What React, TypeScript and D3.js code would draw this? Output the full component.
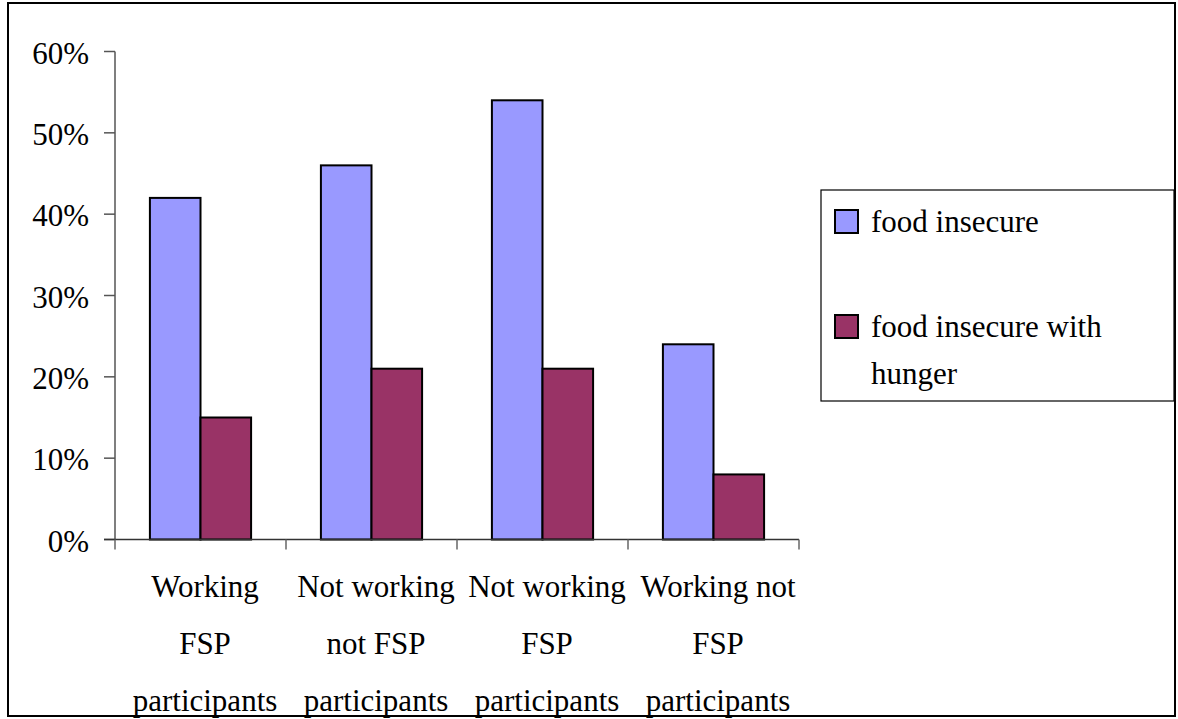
import React from 'react';
import * as d3 from 'd3';

const categories: string[][] = [
    ['Working', 'FSP', 'participants'],
    ['Not working', 'not FSP', 'participants'],
    ['Not working', 'FSP', 'participants'],
    ['Working not', 'FSP', 'participants'],
];
const seriesNames = ['food insecure', 'food insecure with hunger'];
const foodInsecure = [0.42, 0.46, 0.54, 0.24];
const withHunger = [0.15, 0.21, 0.21, 0.08];
const yTicks = [0, 0.1, 0.2, 0.3, 0.4, 0.5, 0.6];
const colors = ['#9999FF', '#993366'];

const width = 1178;
const height = 719;
const fontSize = 31;
const serif = 'Liberation Serif';

const App: React.FC = () => {
    const keys = categories.map(c => c.join(' '));
    const x0 = d3.scaleBand().domain(keys).range([115, 799]).padding(0);
    const x1 = d3.scaleBand()
        .domain(seriesNames)
        .range([0, x0.bandwidth()])
        .paddingInner(0)
        .paddingOuter(0.69);
    const y = d3.scaleLinear().domain([0, 0.6]).range([539.5, 51.5]);
    const fmt = d3.format('.0%');
    const values = [foodInsecure, withHunger];
    const xTicks = [...keys.map(k => x0(k)!), x0.range()[1]];

    const legendRows = [
        { lines: ['food insecure'], y: 210 },
        { lines: ['food insecure with', 'hunger'], y: 315 },
    ];

    return (
        <svg
            width={width}
            height={height}
            fontFamily={serif}
            fontSize={fontSize}
            style={{ position: 'absolute', left: 0, top: 0 }}
        >
            {/* outer frame */}
            <rect x={8} y={3} width={1167} height={713} fill="#fff" stroke="#000" strokeWidth={2} />

            {/* bars */}
            {keys.map((k, i) => (
                <g key={k} transform={`translate(${x0(k)},0)`}>
                    {seriesNames.map((s, j) => (
                        <rect
                            key={s}
                            x={x1(s)}
                            y={y(values[j][i])}
                            width={x1.bandwidth()}
                            height={y(0) - y(values[j][i])}
                            fill={colors[j]}
                            stroke="#000"
                            strokeWidth={2}
                        />
                    ))}
                </g>
            ))}

            {/* y axis */}
            <line x1={115} x2={115} y1={y(0.6)} y2={y(0)} stroke="#555" strokeWidth={1.5} />
            {yTicks.map(t => (
                <g key={t}>
                    <line x1={104} x2={115} y1={y(t)} y2={y(t)} stroke="#555" strokeWidth={1.5} />
                    <text x={89} y={y(t) + 12} textAnchor="end" fill="#000">
                        {fmt(t)}
                    </text>
                </g>
            ))}

            {/* x axis */}
            <line x1={104} x2={799} y1={y(0)} y2={y(0)} stroke="#333" strokeWidth={1.5} />
            {xTicks.map(t => (
                <line key={t} x1={t} x2={t} y1={y(0)} y2={y(0) + 10} stroke="#666" strokeWidth={1.5} />
            ))}
            {categories.map((c, i) => (
                <text
                    key={keys[i]}
                    textAnchor="middle"
                    fill="#000"
                    transform={`translate(${x0(keys[i])! + x0.bandwidth() / 2 + 4.5},0)`}
                >
                    {c.map((line, k) => (
                        <tspan key={k} x={0} y={597 + k * 57}>
                            {line}
                        </tspan>
                    ))}
                </text>
            ))}

            {/* legend */}
            <rect x={821} y={190} width={353} height={211} fill="#fff" stroke="#000" strokeWidth={1.2} />
            {legendRows.map((row, i) => (
                <g key={i}>
                    <rect x={835} y={row.y} width={23} height={23} fill={colors[i]} stroke="#000" strokeWidth={2} />
                    <text fill="#000">
                        {row.lines.map((line, k) => (
                            <tspan key={k} x={871} y={row.y + 22 + k * 47}>
                                {line}
                            </tspan>
                        ))}
                    </text>
                </g>
            ))}
        </svg>
    );
};

export default App;
